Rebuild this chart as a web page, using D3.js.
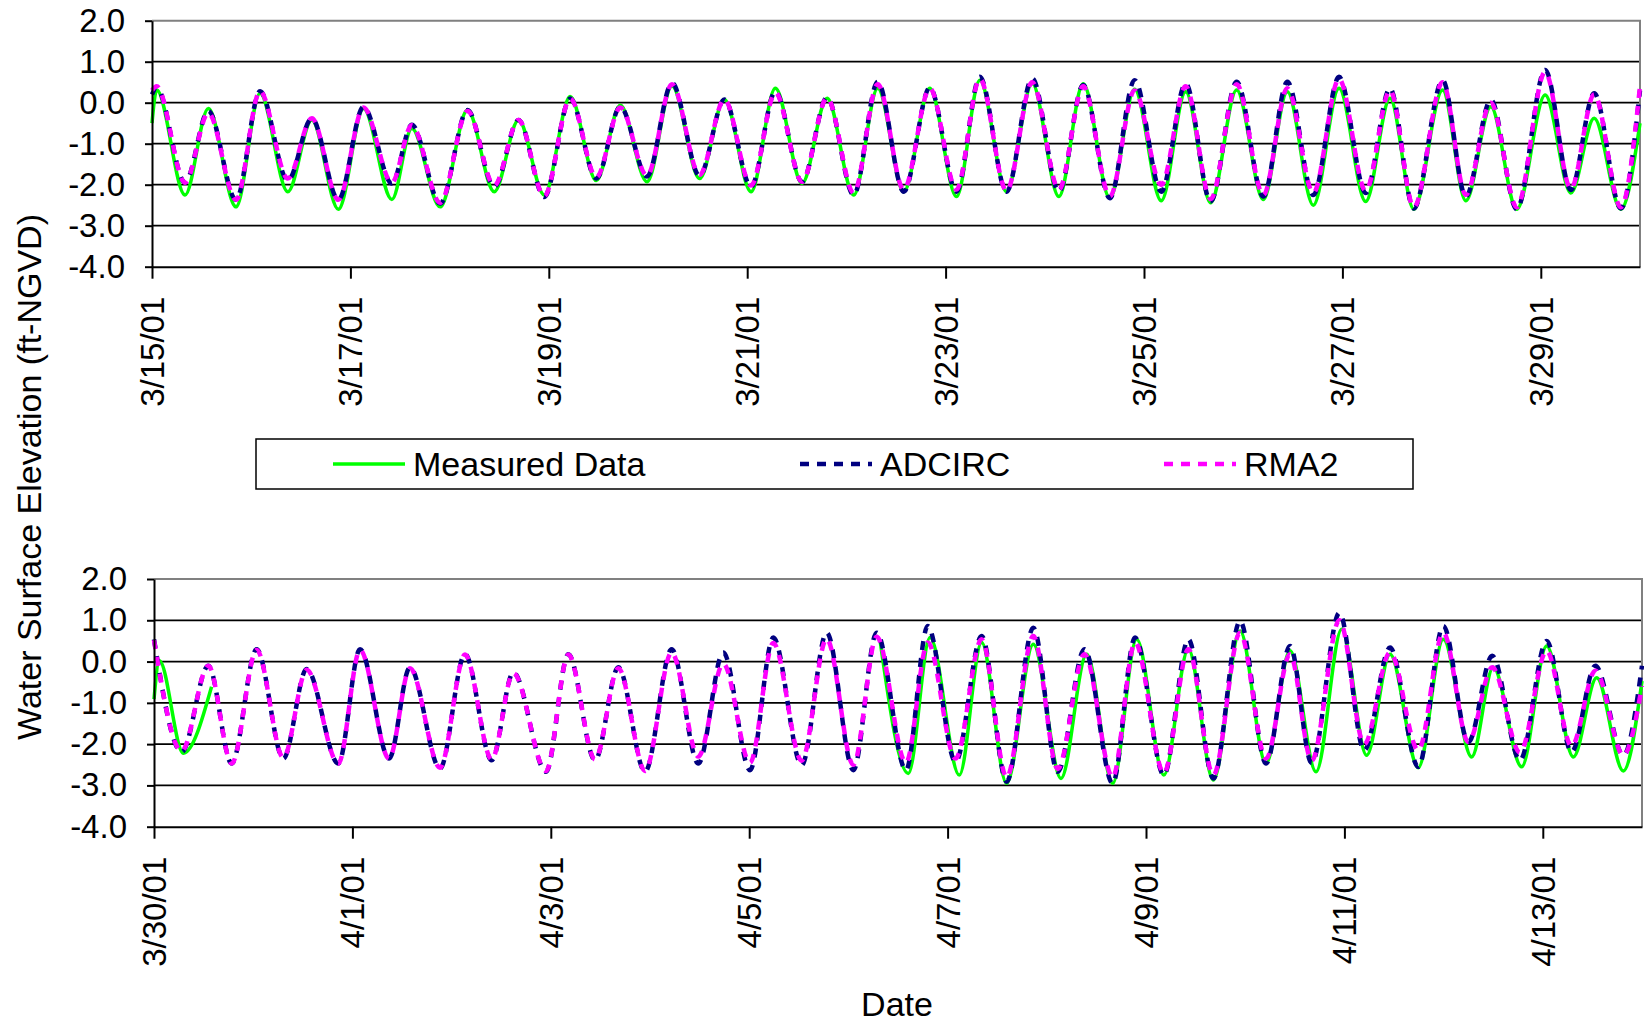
<!DOCTYPE html>
<html>
<head>
<meta charset="utf-8">
<script src="https://cdn.jsdelivr.net/npm/d3@7"></script>
<style>
  body { margin: 0; background: #fff; }
  svg { display: block; font-family: "Liberation Sans", Arial, sans-serif; }
</style>
</head>
<body>
<svg id="chart" width="1644" height="1025"></svg>
<script>
// tide highs and lows (days after panel start, ft-NGVD)
const topTimes = [
    0, 0.047, 0.333, 0.568, 0.847, 1.089, 1.369, 1.611, 1.879, 2.132,
    2.418, 2.619, 2.905, 3.181, 3.45, 3.695, 3.954, 4.216, 4.479, 4.721,
    4.99, 5.242, 5.52, 5.77, 6.039, 6.284, 6.553, 6.805, 7.074, 7.316,
    7.578, 7.841, 8.11, 8.345, 8.614, 8.873, 9.142, 9.387, 9.656, 9.905,
    10.174, 10.42, 10.672, 10.934, 11.203, 11.445, 11.707, 11.966, 12.235, 12.48,
    12.72, 13.01, 13.244, 13.496, 13.758, 14.044, 14.303, 14.538, 14.807, 15.0
];
const topMeasured = [
    -0.5, 0.31, -2.25, -0.14, -2.54, 0.23, -2.17, -0.42, -2.6, -0.14,
    -2.36, -0.63, -2.54, -0.18, -2.17, -0.42, -2.25, 0.15, -1.9, -0.06,
    -1.93, 0.41, -1.85, 0.08, -2.17, 0.35, -1.97, 0.11, -2.25, 0.35,
    -2.17, 0.35, -2.29, 0.55, -2.17, 0.47, -2.29, 0.46, -2.33, 0.33,
    -2.39, 0.27, -2.44, 0.31, -2.36, 0.27, -2.5, 0.35, -2.41, 0.11,
    -2.6, 0.31, -2.39, -0.1, -2.6, 0.19, -2.2, -0.38, -2.6, -0.5
];
const topAdcirc = [
    0.2, 0.37, -1.95, -0.2, -2.37, 0.28, -1.9, -0.38, -2.37, -0.1,
    -1.97, -0.54, -2.46, -0.18, -2.05, -0.42, -2.3, 0.1, -1.85, -0.1,
    -1.8, 0.48, -1.78, 0.08, -2.05, 0.27, -1.93, 0.13, -2.25, 0.51,
    -2.17, 0.37, -2.17, 0.63, -2.17, 0.59, -2.17, 0.43, -2.33, 0.55,
    -2.17, 0.47, -2.41, 0.51, -2.29, 0.51, -2.25, 0.63, -2.2, 0.35,
    -2.58, 0.55, -2.29, 0.07, -2.6, 0.8, -2.13, 0.23, -2.58, 0.3
];
const topRma2 = [
    0.3, 0.4, -1.95, -0.25, -2.37, 0.28, -1.85, -0.38, -2.37, -0.12,
    -1.95, -0.55, -2.44, -0.2, -2.02, -0.42, -2.28, 0.1, -1.82, -0.12,
    -1.78, 0.45, -1.76, 0.08, -2.02, 0.25, -1.93, 0.12, -2.2, 0.45,
    -2.12, 0.35, -2.12, 0.58, -2.15, 0.5, -2.12, 0.4, -2.28, 0.3,
    -2.0, 0.4, -2.35, 0.45, -2.25, 0.35, -2.2, 0.58, -2.15, 0.3,
    -2.55, 0.5, -2.25, 0.0, -2.55, 0.75, -2.1, 0.2, -2.55, 0.4
];

// bottom panel: gauge was out between ~3/30 and ~4/6 (null = gap)
const bottomMeasuredTimes = [
    0, 0.054, 0.296, 0.58, 3.9,
    7.32, 7.604, 7.823, 8.118, 8.343, 8.595, 8.864, 9.143, 9.402, 9.664,
    9.906, 10.18, 10.427, 10.679, 10.948, 11.21, 11.452, 11.714, 11.973, 12.224,
    12.46, 12.745, 12.997, 13.283, 13.501, 13.787, 14.039, 14.308, 14.543, 14.812, 15.0
];
const bottomMeasured = [
    -0.91, 0.02, -2.22, -0.61, null,
    0.5, -2.71, 0.58, -2.75, 0.46, -2.95, 0.42, -2.83, 0.18, -2.95,
    0.54, -2.75, 0.3, -2.87, 0.74, -2.47, 0.26, -2.67, 0.78, -2.27,
    0.18, -2.57, 0.54, -2.31, -0.14, -2.55, 0.38, -2.31, -0.39, -2.65, -0.47
];
const bottomModelTimes = [
    0, 0.279, 0.548, 0.783, 1.035, 1.304, 1.539, 1.858, 2.077, 2.37,
    2.58, 2.883, 3.135, 3.404, 3.622, 3.952, 4.177, 4.446, 4.681, 4.95,
    5.218, 5.487, 5.739, 6.008, 6.243, 6.529, 6.781, 7.05, 7.285, 7.58,
    7.8, 8.08, 8.343, 8.595, 8.864, 9.11, 9.38, 9.664, 9.89, 10.18,
    10.427, 10.679, 10.948, 11.21, 11.452, 11.67, 11.95, 12.2, 12.46, 12.745,
    12.997, 13.25, 13.49, 13.77, 14.039, 14.29, 14.53, 14.812, 15.0
];
const bottomAdcirc = [
    0.54, -2.19, -0.1, -2.47, 0.3, -2.35, -0.18, -2.47, 0.3, -2.35,
    -0.14, -2.59, 0.18, -2.39, -0.26, -2.67, 0.18, -2.39, -0.14, -2.67,
    0.3, -2.47, 0.22, -2.63, 0.58, -2.51, 0.7, -2.63, 0.7, -2.63,
    0.86, -2.43, 0.62, -2.91, 0.82, -2.67, 0.3, -2.95, 0.58, -2.75,
    0.54, -2.83, 0.98, -2.47, 0.38, -2.46, 1.18, -2.15, 0.34, -2.55,
    0.86, -1.95, 0.14, -2.39, 0.5, -2.19, -0.1, -2.27, -0.1
];
const bottomRma2 = [
    0.52, -2.17, -0.1, -2.47, 0.28, -2.33, -0.2, -2.47, 0.28, -2.35,
    -0.16, -2.57, 0.17, -2.37, -0.28, -2.65, 0.17, -2.37, -0.16, -2.65,
    0.22, -2.3, -0.05, -2.45, 0.45, -2.4, 0.55, -2.5, 0.6, -2.45,
    0.46, -2.35, 0.54, -2.8, 0.62, -2.6, 0.18, -2.8, 0.46, -2.7,
    0.3, -2.75, 0.7, -2.35, 0.18, -2.4, 1.0, -2.0, 0.22, -2.15,
    0.7, -1.95, -0.14, -2.2, 0.26, -2.05, -0.22, -2.27, -0.59
];

const yTicks = [2, 1, 0, -1, -2, -3, -4];
const gridValues = [1, 0, -1, -2, -3];
const seriesNames = ['Measured Data', 'ADCIRC', 'RMA2'];

const styles = [
    { color: '#00ff00', width: 3.5, dash: null },
    { color: '#000080', width: 4.5, dash: '9,8' },
    { color: '#ff00ff', width: 4.5, dash: '9,8' }
];

const svg = d3.select('#chart');
const dayMs = 864e5;
const fmt = d3.utcFormat('%-m/%-d/%y');

function drawPanel(p) {
    const end = d3.utcDay.offset(p.start, 15);
    const x = d3.scaleUtc().domain([p.start, end]).range([p.left, p.right]);
    const y = d3.scaleLinear().domain([-4, 2]).range([p.bottom, p.top]);
    const g = svg.append('g');

    // horizontal gridlines
    g.selectAll('.grid')
        .data(gridValues)
        .join('line')
        .attr('class', 'grid')
        .attr('x1', p.left).attr('x2', p.right)
        .attr('y1', d => y(d)).attr('y2', d => y(d))
        .attr('stroke', '#000')
        .attr('stroke-width', 1.7);

    // grey frame on top and right
    g.append('path')
        .attr('d', `M${p.left},${y(2)}H${p.right}V${y(-4)}`)
        .attr('fill', 'none')
        .attr('stroke', '#808080')
        .attr('stroke-width', 2);

    const line = d3.line()
        .defined(d => d[1] != null)
        .x(d => x(new Date(p.start.getTime() + d[0] * dayMs)))
        .y(d => y(d[1]))
        .curve(d3.curveMonotoneX);

    p.series.forEach((s, i) => {
        g.append('path')
            .datum(d3.zip(s.times, s.values))
            .attr('d', line)
            .attr('fill', 'none')
            .attr('stroke', styles[i].color)
            .attr('stroke-width', styles[i].width)
            .attr('stroke-dasharray', styles[i].dash)
            .attr('stroke-linejoin', 'round');
    });

    // y axis
    const yAxis = g.append('g')
        .attr('transform', `translate(${p.left},0)`)
        .call(d3.axisLeft(y)
            .tickValues(yTicks)
            .tickFormat(d => d.toFixed(1))
            .tickSize(7)
            .tickSizeOuter(0)
            .tickPadding(20));

    // x axis, labels turned on their side
    const xAxis = g.append('g')
        .attr('transform', `translate(0,${p.bottom})`)
        .call(d3.axisBottom(x)
            .tickValues(d3.utcDay.range(p.start, end, 2))
            .tickFormat(fmt)
            .tickSize(12)
            .tickSizeOuter(0));

    xAxis.selectAll('text')
        .attr('transform', 'rotate(-90)')
        .attr('text-anchor', 'end')
        .attr('x', -30)
        .attr('y', 0)
        .attr('dy', '0.35em');

    [xAxis, yAxis].forEach(a => {
        a.attr('font-family', null).attr('font-size', 33);
        a.select('.domain').attr('stroke', '#000').attr('stroke-width', 2);
        a.selectAll('.tick line').attr('stroke', '#000').attr('stroke-width', 2);
        a.selectAll('.tick text').attr('fill', '#000');
    });
}

drawPanel({
    start: new Date(Date.UTC(2001, 2, 15)),
    left: 152, right: 1640, top: 20.7, bottom: 266.7,
    series: [
        { times: topTimes, values: topMeasured },
        { times: topTimes, values: topAdcirc },
        { times: topTimes, values: topRma2 }
    ]
});

drawPanel({
    start: new Date(Date.UTC(2001, 2, 30)),
    left: 154, right: 1642, top: 579, bottom: 826.7,
    series: [
        { times: bottomMeasuredTimes, values: bottomMeasured },
        { times: bottomModelTimes, values: bottomAdcirc },
        { times: bottomModelTimes, values: bottomRma2 }
    ]
});

// legend box between the panels
const legend = svg.append('g');
legend.append('rect')
    .attr('x', 256).attr('y', 439)
    .attr('width', 1157).attr('height', 50)
    .attr('fill', '#fff')
    .attr('stroke', '#000')
    .attr('stroke-width', 1.5);

const legendX = [333, 800, 1164];
const item = legend.selectAll('.item')
    .data(seriesNames)
    .join('g')
    .attr('class', 'item')
    .attr('transform', (d, i) => `translate(${legendX[i]},464)`);

item.append('line')
    .attr('x1', 0).attr('x2', 72)
    .attr('stroke', (d, i) => styles[i].color)
    .attr('stroke-width', (d, i) => styles[i].width)
    .attr('stroke-dasharray', (d, i) => styles[i].dash);

item.append('text')
    .attr('x', 80)
    .attr('dy', '0.35em')
    .attr('font-size', 34)
    .text(d => d);

// axis titles
svg.append('text')
    .attr('transform', 'translate(29,477) rotate(-90)')
    .attr('text-anchor', 'middle')
    .attr('dy', '0.35em')
    .attr('font-size', 34)
    .text('Water Surface Elevation (ft-NGVD)');

svg.append('text')
    .attr('x', 897).attr('y', 1004)
    .attr('text-anchor', 'middle')
    .attr('dy', '0.35em')
    .attr('font-size', 34)
    .text('Date');
</script>
</body>
</html>
